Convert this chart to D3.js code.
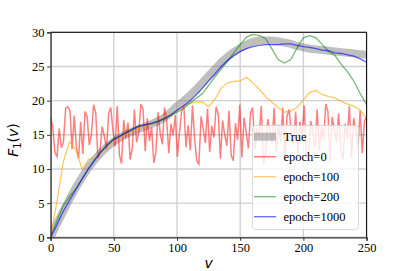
<!DOCTYPE html>
<html><head><meta charset="utf-8">
<script src="https://cdn.jsdelivr.net/npm/d3@7"></script>
<style>body{margin:0;background:#fff}svg{display:block}</style>
</head><body>
<script>
const vGrid = [0,5,10,15,20,25,30,35,40,45,50,55,60,65,70,75,80,85,90,95,100,105,110,115,120,125,130,135,140,145,150,155,160,165,170,175,180,185,190,195,200,205,210,215,220,225,230,235,240,245,250];
const trueVals = [0,2.0,3.8,5.6,7.3,8.8,10.2,11.4,12.4,13.3,14.0,14.6,15.1,15.5,15.9,16.2,16.6,17.0,17.5,18.3,19.2,19.9,20.7,21.6,22.6,23.6,24.6,25.6,26.4,27.1,27.7,28.2,28.6,28.8,28.8,28.8,28.7,28.5,28.3,28.0,27.8,27.6,27.5,27.4,27.3,27.2,27.1,27.0,26.9,26.8,26.7];
const epoch100 = [0,5.2,11.0,14.0,12.8,9.9,11.4,11.6,12.4,13.3,14.1,14.6,15.1,15.6,16.0,16.3,16.7,17.1,17.6,18.0,18.4,19.2,19.6,19.8,19.8,19.1,20.2,21.8,22.6,22.8,22.9,23.4,22.6,21.7,20.6,19.8,19.0,18.3,18.5,19.0,20.1,21.2,21.5,20.9,20.6,20.4,19.9,19.5,19.2,18.6,17.3];
const epoch200 = [0,2.4,4.6,6.0,7.1,8.5,10.1,11.4,12.6,13.6,14.4,14.9,15.4,15.9,16.2,16.4,16.6,16.9,17.3,17.8,18.3,18.8,19.6,20.3,21.0,22.2,23.5,24.6,25.8,27.0,28.2,29.3,29.7,29.5,29.1,27.6,26.0,25.5,26.0,27.7,29.2,29.5,29.2,28.2,27.2,26.6,25.3,24.2,22.8,21.0,19.4];
const epoch1000 = [0,1.8,3.8,5.4,7.0,8.6,10.0,11.3,12.5,13.5,14.3,14.8,15.3,15.8,16.3,16.5,16.7,17.0,17.4,17.9,18.6,19.2,19.9,20.8,21.8,22.9,23.9,25.0,25.9,26.6,27.2,27.6,27.9,28.1,28.2,28.2,28.2,28.3,28.3,28.1,27.9,27.8,27.6,27.4,27.3,27.0,26.9,26.7,26.5,26.1,25.6];
const epoch0 = [17.6,16.2,12.4,11.8,15.9,13.1,14.0,18.9,19.1,18.6,12.9,17.8,13.2,11.5,16.9,12.2,18.4,17.6,13.5,15.1,19.4,18.2,11.6,12.8,16.2,14.8,12.9,18.1,19.0,15.6,13.3,19.2,12.1,10.8,17.2,14.5,16.8,11.4,13.0,18.7,13.9,15.3,19.5,18.8,12.6,17.4,14.1,16.1,10.9,12.5,18.3,15.2,13.6,19.0,17.2,12.3,16.6,14.9,17.9,11.8,15.5,18.6,19.1,13.2,16.4,12.7,19.3,14.4,11.2,10.7,17.7,15.9,13.8,18.8,12.5,16.3,14.6,19.1,18.0,11.5,17.1,15.0,13.4,18.5,12.0,11.2,16.7,14.3,19.4,11.7,17.5,15.4,13.0,18.2,19.0,12.8,16.0,14.7,19.2,10.8,12.3,17.3,15.7,13.7,18.9,12.4,16.5,14.0,19.0,11.3,17.8,18.7,15.1,13.5,18.4,12.2,16.9,14.8,19.3,11.9,12.6,17.0,15.3,13.1,18.7,12.6,16.2,14.2,19.5,18.4,11.1,17.6,15.8,13.9,18.1,12.9,11.4,16.6,14.5,19.2,11.6,17.4,15.6,13.3,18.6,12.3,17.0,17.6];
const xTicks = [0,50,100,150,200,250];
const yTicks = [0,5,10,15,20,25,30];
const legendLabels = ["True","epoch=0","epoch=100","epoch=200","epoch=1000"];

const W=407,H=271;
const svg=d3.select("body").append("svg").attr("width",W).attr("height",H);
const x=d3.scaleLinear().domain([0,250]).range([50.6,366.6]);
const y=d3.scaleLinear().domain([0,30]).range([237.3,32.3]);
const serif="'Liberation Serif','Times New Roman',serif";

// grid
const g=svg.append("g");
g.selectAll(".gx").data(xTicks).join("line").attr("x1",d=>x(d)).attr("x2",d=>x(d)).attr("y1",y(0)).attr("y2",y(30)).attr("stroke","#d0d0d0").attr("stroke-width",1.4);
g.selectAll(".gy").data(yTicks).join("line").attr("y1",d=>y(d)).attr("y2",d=>y(d)).attr("x1",x(0)).attr("x2",x(250)).attr("stroke","#d0d0d0").attr("stroke-width",1.4);

svg.append("clipPath").attr("id","c").append("rect").attr("x",x(0)).attr("y",y(30)).attr("width",x(250)-x(0)).attr("height",y(0)-y(30));
const plot=svg.append("g").attr("clip-path","url(#c)");
const line=(vs)=>d3.line().x((d,i)=>x(vs[i])).y(d=>y(d));
const redV=epoch0.map((d,i)=>i*250/(epoch0.length-1));

plot.append("path").datum(trueVals).attr("d",line(vGrid)).attr("fill","none").attr("stroke","#808080").attr("stroke-opacity",0.5).attr("stroke-width",8);
plot.append("path").datum(epoch0).attr("d",line(redV)).attr("fill","none").attr("stroke","#ff0000").attr("stroke-opacity",0.5).attr("stroke-width",1.5);
plot.append("path").datum(epoch100).attr("d",line(vGrid)).attr("fill","none").attr("stroke","#ffa500").attr("stroke-opacity",0.6).attr("stroke-width",1.3);
plot.append("path").datum(epoch200).attr("d",line(vGrid)).attr("fill","none").attr("stroke","#008000").attr("stroke-opacity",0.55).attr("stroke-width",1.3);
plot.append("path").datum(epoch1000).attr("d",line(vGrid)).attr("fill","none").attr("stroke","#0000ff").attr("stroke-opacity",0.6).attr("stroke-width",1.3);

// spines
svg.append("line").attr("x1",x(0)).attr("x2",x(250)).attr("y1",y(30)).attr("y2",y(30)).attr("stroke","#000").attr("stroke-width",1);
svg.append("line").attr("x1",x(250)).attr("x2",x(250)).attr("y1",y(0)).attr("y2",y(30)).attr("stroke","#000").attr("stroke-width",1);

// axes
const xa=svg.append("g").attr("transform",`translate(0,${y(0)})`).call(d3.axisBottom(x).tickValues(xTicks).tickSize(3.5).tickPadding(2.5));
const ya=svg.append("g").attr("transform",`translate(${x(0)},0)`).call(d3.axisLeft(y).tickValues(yTicks).tickSize(3.5).tickPadding(2.5));
[xa,ya].forEach(a=>{a.attr("font-family",null).attr("font-size",null);a.selectAll("text").style("font-family",serif).style("font-size","12.5px").attr("fill","#000");a.selectAll("line").attr("stroke","#333");a.select(".domain").attr("stroke","#333").attr("stroke-width",1.3);});

// labels
svg.append("text").attr("x",(x(0)+x(250))/2).attr("y",268).attr("text-anchor","middle").style("font-family","'DejaVu Sans'").style("font-style","italic").style("font-size","14px").text("v");
const yl=svg.append("text").attr("transform",`translate(18,140) rotate(-90)`).attr("text-anchor","middle").style("font-family","'DejaVu Sans'").style("font-size","14px");
yl.append("tspan").style("font-style","italic").text("F");
yl.append("tspan").style("font-size","10px").attr("dy",3).text("1");
yl.append("tspan").attr("dy",-3).text("(");
yl.append("tspan").style("font-style","italic").text("v");
yl.append("tspan").text(")");

// legend
const lg=svg.append("g");
lg.append("rect").attr("x",252.5).attr("y",125.5).attr("width",106).attr("height",104).attr("rx",3).attr("fill","#fff").attr("fill-opacity",0.8).attr("stroke","#d0d0d0").attr("stroke-width",0.8);
const legendStyles=[{c:"#808080",o:0.5,w:8},{c:"#ff0000",o:0.5,w:1.5},{c:"#ffa500",o:0.6,w:1.3},{c:"#008000",o:0.55,w:1.3},{c:"#0000ff",o:0.6,w:1.3}];
legendLabels.forEach((t,i)=>{
  const yy=136.7+i*20;
  lg.append("line").attr("x1",254).attr("x2",276).attr("y1",yy).attr("y2",yy).attr("stroke",legendStyles[i].c).attr("stroke-opacity",legendStyles[i].o).attr("stroke-width",legendStyles[i].w);
  lg.append("text").attr("x",283.5).attr("y",yy+4.3).style("font-family",serif).style("font-size","12.5px").text(t);
});
</script>
</body></html>
